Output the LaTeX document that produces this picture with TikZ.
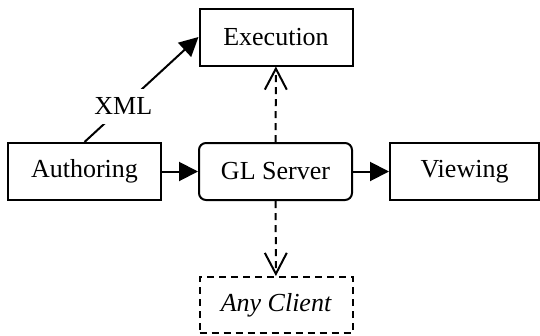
\documentclass[tikz,border=0pt]{standalone}
\usepackage{fontspec}
\setmainfont{Liberation Serif}
\usetikzlibrary{arrows.meta}
\begin{document}
\begin{tikzpicture}[x=1pt,y=-1pt,
  font=\fontsize{26}{30}\selectfont,
  box/.style={draw, line width=2pt, minimum width=153pt, minimum height=57pt, inner sep=0pt},
  rbox/.style={box, rounded corners=7pt},
  dbox/.style={box, dash pattern=on 7pt off 5pt},
  solidarrow/.style={line width=2pt, -{Triangle[length=19pt,width=19pt]}},
  dasharrow/.style={line width=2pt, dash pattern=on 7pt off 5pt, -{Straight Barb[length=21pt,width=22pt,line width=2pt]}}]
\useasboundingbox (0,0) rectangle (540,335);
\node[box]  (auth) at (84.5,171.5) {Authoring};
\node[rbox] (gl)   at (275.5,171.5) {GL Server};
\node[box, minimum width=149pt] (view) at (464.5,171.5) {Viewing};
\node[box]  (exec) at (276,37) {Execution};
\node[dbox, minimum height=56pt] (client) at (276,305) {\itshape Any Client};
\draw[solidarrow] (auth) -- (gl);
\draw[solidarrow] (gl) -- (view);
\draw[solidarrow] (auth.north) -- node[pos=0.34, fill=white, inner xsep=3pt, inner ysep=9pt] (xml) {XML} (exec.west);
\draw[dasharrow] (gl) -- (exec);
\draw[dasharrow] (gl) -- (client);
\end{tikzpicture}
\end{document}
